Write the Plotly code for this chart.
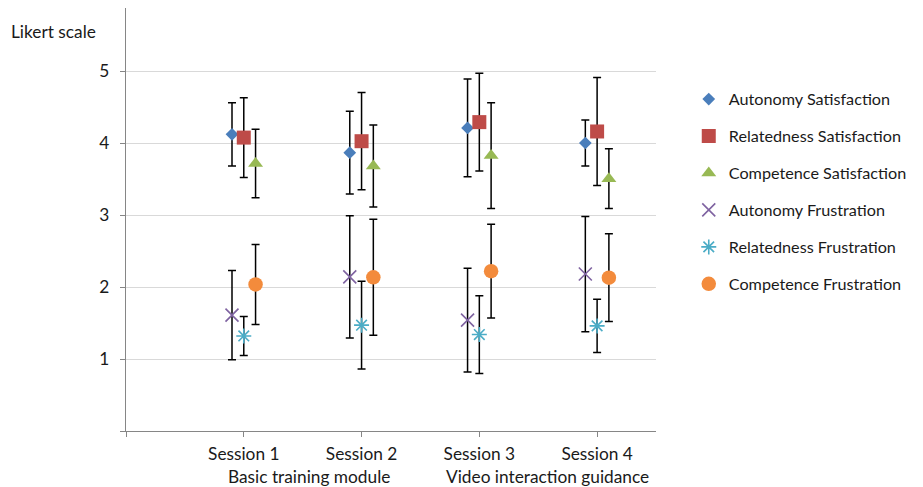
import plotly.graph_objects as go

sessions = ["Session 1", "Session 2", "Session 3", "Session 4"]
session_pos = [1, 2, 3, 4]
groups = ["Basic training module", "Video interaction guidance"]
group_pos = [1.55, 3.58]

series_names = [
    "Autonomy Satisfaction",
    "Relatedness Satisfaction",
    "Competence Satisfaction",
    "Autonomy Frustration",
    "Relatedness Frustration",
    "Competence Frustration",
]

aut_sat = [4.12, 3.865, 4.21, 4.00]
aut_sat_sd = [0.44, 0.575, 0.68, 0.32]
rel_sat = [4.075, 4.025, 4.29, 4.16]
rel_sat_sd = [0.555, 0.675, 0.68, 0.75]
comp_sat = [3.715, 3.68, 3.825, 3.505]
comp_sat_sd = [0.475, 0.57, 0.735, 0.415]
aut_frus = [1.61, 2.14, 1.54, 2.18]
aut_frus_sd = [0.62, 0.85, 0.72, 0.80]
rel_frus = [1.32, 1.47, 1.34, 1.46]
rel_frus_sd = [0.27, 0.61, 0.54, 0.37]
comp_frus = [2.035, 2.135, 2.22, 2.13]
comp_frus_sd = [0.555, 0.805, 0.65, 0.61]

values = [aut_sat, rel_sat, comp_sat, aut_frus, rel_frus, comp_frus]
sds = [aut_sat_sd, rel_sat_sd, comp_sat_sd, aut_frus_sd, rel_frus_sd, comp_frus_sd]
offsets = [-0.1, 0.0, 0.1, -0.1, 0.0, 0.1]
colors = ["#4a7ebb", "#be4b48", "#98b954", "#7f63a1", "#4bacc6", "#f38b3c"]
symbols = ["diamond", "square", "triangle-up", "x-thin-open", "asterisk-open", "circle"]
sizes = [9.8, 14, 13, 13, 12.5, 14.5]

FONT = "Lato"
FS = 17.3
LEG_FS = 16.2
TXT = "#1a1a1a"

fig = go.Figure()
for i, name in enumerate(series_names):
    open_sym = symbols[i].endswith("open")
    marker = dict(symbol=symbols[i], size=sizes[i], color=colors[i])
    if open_sym:
        marker["line"] = dict(color=colors[i], width=1.6)
    else:
        marker["line"] = dict(width=0)
    fig.add_trace(go.Scatter(
        x=[p + offsets[i] for p in session_pos],
        y=values[i],
        mode="markers",
        name=name,
        legendgroup=name,
        marker=marker,
        error_y=dict(type="data", array=sds[i], visible=True,
                     color="#000000", thickness=1.5, width=4),
    ))

for g, gx in zip(groups, group_pos):
    fig.add_annotation(x=gx, xref="x", y=0, yref="paper", yanchor="middle",
                       yshift=-45, text=g, showarrow=False,
                       font=dict(family=FONT, size=FS, color=TXT))

fig.add_annotation(x=0, xref="paper", xshift=-117, xanchor="left",
                   y=1, yref="paper", yanchor="middle", yshift=-23,
                   text="Likert scale", showarrow=False,
                   font=dict(family=FONT, size=FS, color=TXT))

fig.update_layout(
    width=915, height=479,
    margin=dict(l=118, r=267, t=0, b=56),
    paper_bgcolor="white", plot_bgcolor="white",
    font=dict(family=FONT, size=FS, color=TXT),
    showlegend=True,
    legend=dict(
        xref="container", yref="container",
        x=0.744, xanchor="left", y=0.8455, yanchor="top",
        tracegroupgap=12.9, itemwidth=30,
        font=dict(family=FONT, size=LEG_FS, color=TXT),
        bgcolor="rgba(0,0,0,0)",
    ),
    xaxis=dict(
        range=[0, 4.5], tickvals=[0] + session_pos, ticktext=[""] + sessions,
        showline=True, linecolor="#868686", linewidth=1.3,
        ticks="outside", ticklen=5, tickcolor="#868686", tickwidth=1.3,
        showgrid=False, zeroline=False, ticklabelstandoff=2,
    ),
    yaxis=dict(
        range=[0, 5.875], tickvals=[0, 1, 2, 3, 4, 5],
        ticktext=["", "1", "2", "3", "4", "5"],
        showline=True, linecolor="#868686", linewidth=1.3,
        ticks="outside", ticklen=5, tickcolor="#868686", tickwidth=1.3,
        showgrid=True, gridcolor="#d9d9d9", gridwidth=1.3,
        zeroline=False, ticklabelstandoff=7,
    ),
)

fig.write_html("out.html")
